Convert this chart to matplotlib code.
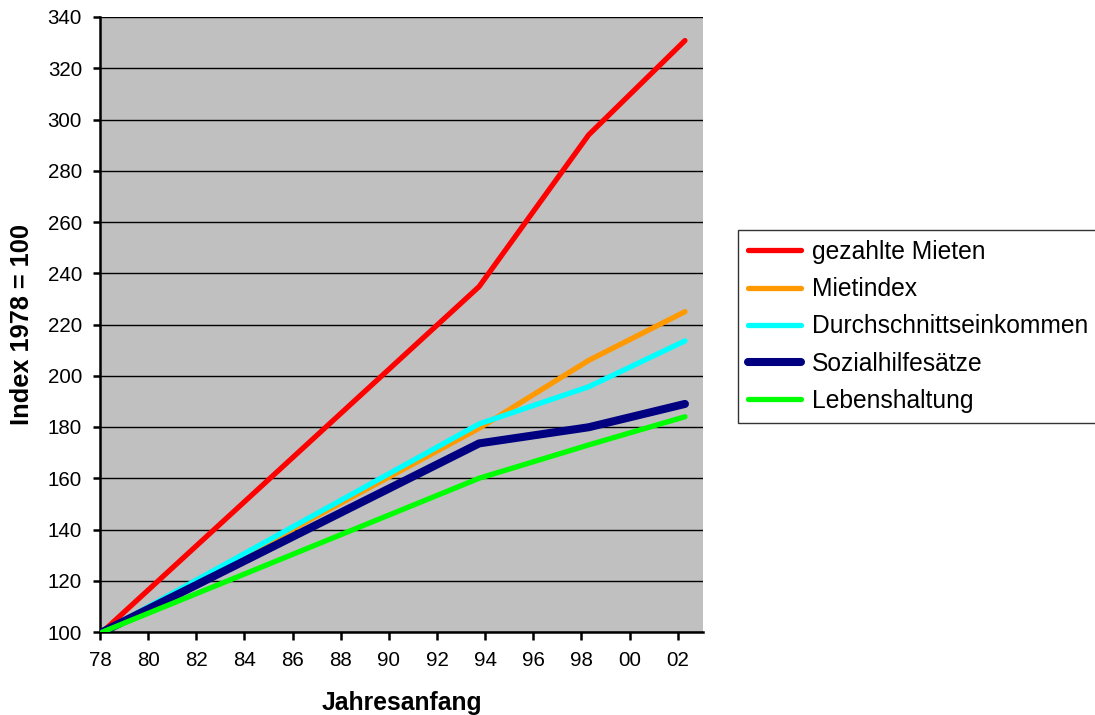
import matplotlib
matplotlib.use("Agg")
import matplotlib.pyplot as plt

plt.rcParams['font.family'] = ['Liberation Sans', 'DejaVu Sans']

# Years (two-digit, continuing past 99) at which the series are sampled
years = [78.1, 93.75, 98.3, 102.3]

# Index values, 1978 = 100
gezahlte_mieten = [100, 234.8, 294, 330.8]
mietindex = [100, 179.5, 206, 225]
durchschnittseinkommen = [100, 181.2, 195.7, 213.6]
sozialhilfesaetze = [100, 173.6, 179.9, 189]
lebenshaltung = [100, 160, 173, 184]

series_names = ["gezahlte Mieten", "Mietindex", "Durchschnittseinkommen",
                "Sozialhilfesätze", "Lebenshaltung"]
series_values = [gezahlte_mieten, mietindex, durchschnittseinkommen,
                 sozialhilfesaetze, lebenshaltung]
series_colors = ["#FF0000", "#FF9900", "#00FFFF", "#000080", "#00FF00"]
series_widths = [3.8, 3.8, 3.8, 5.8, 3.8]

x_ticks = list(range(78, 103, 2))
x_tick_labels = [f"{t % 100:02d}" for t in x_ticks]
y_ticks = list(range(100, 341, 20))

fig = plt.figure(figsize=(10.95, 7.15), dpi=100)
ax = fig.add_axes([100 / 1095, 1 - 632 / 715, 603 / 1095, 615 / 715])
ax.set_facecolor("#C0C0C0")

for name, vals, col, lw in zip(series_names, series_values, series_colors, series_widths):
    ax.plot(years, vals, color=col, lw=lw, label=name,
            solid_capstyle="round", solid_joinstyle="round", zorder=3)

ax.set_xlim(78, 103.05)
ax.set_ylim(100, 340)
ax.set_xticks(x_ticks)
ax.set_xticklabels(x_tick_labels)
ax.set_yticks(y_ticks)

ax.yaxis.grid(True, color="black", lw=1.0, zorder=1)
ax.set_axisbelow(True)

for side in ("top", "right"):
    ax.spines[side].set_visible(False)
for side in ("left", "bottom"):
    ax.spines[side].set_linewidth(1.8)
    ax.spines[side].set_color("black")

ax.tick_params(axis="y", direction="out", length=5, width=1.8,
               labelsize=14.8, color="black", pad=8)
ax.tick_params(axis="x", direction="out", length=6, width=1.8,
               labelsize=14.8, color="black", pad=8)

ax.set_xlabel("Jahresanfang", fontsize=17.8, fontweight="bold", labelpad=15)
ax.set_ylabel("Index 1978 = 100", fontsize=18.3, fontweight="bold", labelpad=10)

leg = fig.legend(loc="upper left", bbox_to_anchor=(738 / 1095, 1 - 230 / 715),
                 fontsize=17.7, frameon=True, fancybox=False, edgecolor="black",
                 handlelength=2.15, handletextpad=0.45, labelspacing=0.54,
                 borderpad=0.4, borderaxespad=0)
leg.get_frame().set_linewidth(1.0)
for line in leg.get_lines():
    line.set_solid_capstyle("round")

fig.savefig("out.png", dpi=100)
